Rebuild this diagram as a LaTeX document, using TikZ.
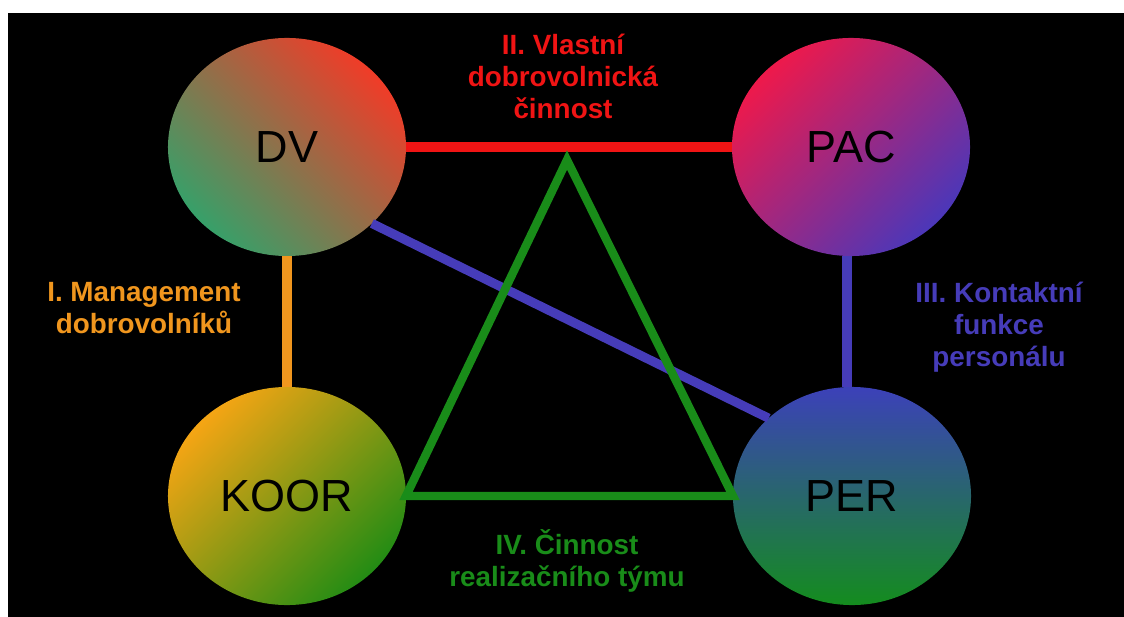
\documentclass[tikz,border=0pt]{standalone}
\usepackage{fontspec}
\setmainfont{Liberation Sans}
\usetikzlibrary{shapes.geometric}
\definecolor{mgmt}{RGB}{240,150,30}
\definecolor{vlast}{RGB}{240,20,20}
\definecolor{kont}{RGB}{70,60,185}
\definecolor{cinn}{RGB}{25,140,25}
\begin{document}
\begin{tikzpicture}[x=0.025cm, y=-0.025cm,
    ball/.style={ellipse, minimum width=5.95cm, minimum height=5.45cm, inner sep=0pt, outer sep=0pt,
      text=black, font=\fontsize{32}{32}\selectfont},
    tag/.style={align=center, font=\fontsize{19.8}{22.8}\selectfont\bfseries},
    link/.style={line width=6.5pt}]
  \useasboundingbox (0,0) rectangle (1124,617);
  \fill[black] (8,13) rectangle (1124,617);
  \node[ball, top color={rgb,255:red,240;green,60;blue,40}, bottom color={rgb,255:red,55;green,160;blue,105}, shading angle=-45] (dv) at (287,147) {DV};
  \node[ball, top color={rgb,255:red,238;green,25;blue,75}, bottom color={rgb,255:red,75;green,55;blue,185}, shading angle=45] (pac) at (851,147) {PAC};
  \node[ball, top color={rgb,255:red,245;green,165;blue,20}, bottom color={rgb,255:red,35;green,140;blue,20}, shading angle=45] (koor) at (287,496) {KOOR};
  \node[ball, top color={rgb,255:red,60;green,65;blue,185}, bottom color={rgb,255:red,20;green,140;blue,30}] (per) at (852,496) {PER};
  \coordinate (apex) at (567,160);
  \draw[link, vlast] (dv) -- (pac);
  \draw[link, mgmt] (dv) -- (koor);
  \draw[link, kont] (pac.south) ++(-4,0) coordinate (pacs) -- (pacs |- per.north);
  \draw[link, kont] (dv.-42) -- (per.137);
  \draw[link, cinn, line width=6pt] (koor.east) -- (apex) -- (per.west) -- cycle;
  \node[tag, vlast] (t2) at (563,76) {II. Vlastní\\dobrovolnická\\činnost};
  \node[tag, mgmt] (t1) at (144,308) {I. Management\\dobrovolníků};
  \node[tag, kont] (t3) at (999,327) {III. Kontaktní\\funkce\\personálu};
  \node[tag, cinn] (t4) at (567,561) {IV. Činnost\\realizačního týmu};
\end{tikzpicture}
\end{document}
